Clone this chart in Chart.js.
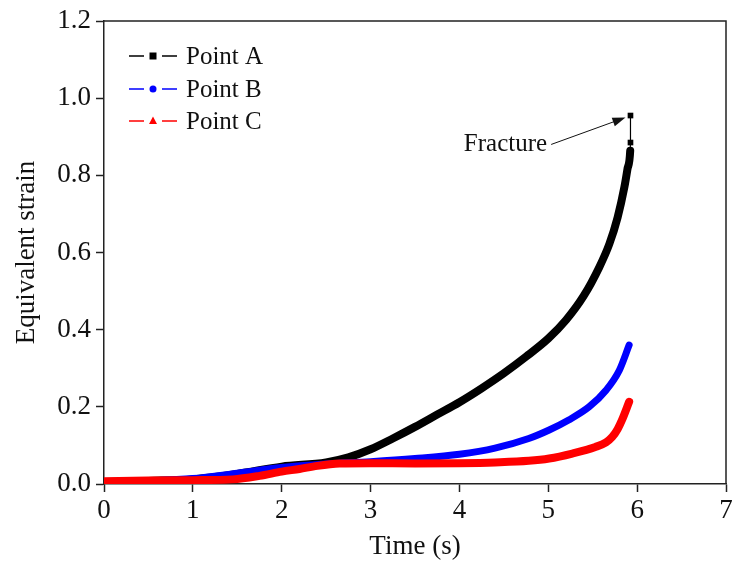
<!DOCTYPE html>
<html>
<head>
<meta charset="utf-8">
<script src="https://cdn.jsdelivr.net/npm/chart.js@4.4.1/dist/chart.umd.min.js"></script>
<style>
html,body{margin:0;padding:0;background:#fff;}
#wrap{width:733px;height:567px;position:relative;}
</style>
</head>
<body>
<div id="wrap"><canvas id="c"></canvas></div>
<script>
// ---- Data ----
const seriesNames = ["Point A", "Point B", "Point C"];

const timeA   = [0, 0.5, 1.0, 1.5, 2.0, 2.5, 2.75, 3.0, 3.25, 3.5, 3.75, 4.0, 4.25, 4.5, 4.75, 5.0, 5.2, 5.4, 5.574, 5.687, 5.78, 5.856, 5.89, 5.922, 5.925, 5.925];
const strainA = [0.005, 0.008, 0.012, 0.026, 0.045, 0.056, 0.069, 0.090, 0.118, 0.148, 0.180, 0.212, 0.248, 0.287, 0.330, 0.377, 0.425, 0.488, 0.562, 0.622, 0.691, 0.769, 0.815, 0.864, 0.885, 0.955];

const timeB   = [0, 0.5, 1.0, 1.5, 2.0, 2.5, 3.0, 3.5, 4.0, 4.4, 4.78, 5.01, 5.23, 5.46, 5.65, 5.80, 5.91];
const strainB = [0.005, 0.008, 0.014, 0.028, 0.043, 0.052, 0.058, 0.066, 0.077, 0.093, 0.118, 0.140, 0.166, 0.200, 0.243, 0.295, 0.360];

const timeC   = [0, 0.5, 1.0, 1.45, 1.75, 2.0, 2.2, 2.4, 2.65, 3.0, 3.5, 4.0, 4.4, 4.78, 5.01, 5.27, 5.53, 5.65, 5.72, 5.78, 5.83, 5.91];
const strainC = [0.007, 0.009, 0.010, 0.012, 0.021, 0.032, 0.039, 0.047, 0.053, 0.054, 0.053, 0.054, 0.056, 0.060, 0.066, 0.079, 0.096, 0.108, 0.122, 0.142, 0.166, 0.213];

const xTicks = [0, 1, 2, 3, 4, 5, 6, 7];
const yTicks = [0.0, 0.2, 0.4, 0.6, 0.8, 1.0, 1.2];

const fractureLabel = "Fracture";
const fracturePoint = {x: 5.925, y: 0.955};
const fractureTextAt = {x: 4.05, y: 0.88};

const xTitle = "Time (s)";
const yTitle = "Equivalent strain";

// ---- build datasets ----
function pts(xs, ys){ return xs.map((x,i)=>({x:x, y:ys[i]})); }

const nA = timeA.length;
const datasets = [
  {
    label: seriesNames[0], data: pts(timeA, strainA), order: 3,
    borderColor: '#000000', backgroundColor: '#000000', borderWidth: 8,
    pointStyle: 'rect',
    pointRadius: ctx => (ctx.dataIndex >= nA - 2 ? 4 : 0),
    pointBorderWidth: 0,
    segment: { borderWidth: ctx => (ctx.p0DataIndex >= nA - 3 ? 1.2 : 8) },
    cubicInterpolationMode: 'monotone', borderCapStyle: 'round'
  },
  {
    label: seriesNames[1], data: pts(timeB, strainB), order: 2,
    borderColor: '#0000ff', backgroundColor: '#0000ff', borderWidth: 7,
    pointStyle: 'circle', pointRadius: 0,
    cubicInterpolationMode: 'monotone', borderCapStyle: 'round'
  },
  {
    label: seriesNames[2], data: pts(timeC, strainC), order: 1,
    borderColor: '#ff0000', backgroundColor: '#ff0000', borderWidth: 8,
    pointStyle: 'triangle', pointRadius: 0,
    cubicInterpolationMode: 'monotone', borderCapStyle: 'round'
  }
];

const serif = "'Liberation Serif', 'Times New Roman', serif";
const axisColor = '#222222';

// frame, legend and annotation
const extras = {
  id: 'extras',
  afterDraw(chart) {
    const ctx = chart.ctx, a = chart.chartArea;
    const xs = chart.scales.x, ys = chart.scales.y;
    ctx.save();
    // top/right frame
    ctx.strokeStyle = axisColor; ctx.lineWidth = 1.5;
    ctx.beginPath();
    ctx.moveTo(a.left, a.top); ctx.lineTo(a.right, a.top); ctx.lineTo(a.right, a.bottom);
    ctx.stroke();

    // legend
    const rowY = [56, 89, 121];
    ctx.font = "25px " + serif;
    ctx.textBaseline = 'middle';
    chart.data.datasets.forEach((ds, i) => {
      const y = rowY[i];
      ctx.strokeStyle = ds.borderColor; ctx.fillStyle = ds.borderColor; ctx.lineWidth = 1.3;
      ctx.beginPath();
      ctx.moveTo(129, y); ctx.lineTo(144, y);
      ctx.moveTo(162, y); ctx.lineTo(177, y);
      ctx.stroke();
      const cx = 153;
      ctx.beginPath();
      if (ds.pointStyle === 'rect') { ctx.rect(cx - 3.5, y - 3.5, 7, 7); }
      else if (ds.pointStyle === 'circle') { ctx.arc(cx, y, 3.5, 0, Math.PI * 2); }
      else { ctx.moveTo(cx, y - 4.5); ctx.lineTo(cx + 4, y + 3); ctx.lineTo(cx - 4, y + 3); ctx.closePath(); }
      ctx.fill();
      ctx.fillStyle = '#111';
      ctx.textAlign = 'left';
      ctx.fillText(ds.label, 186, y + 1);
    });

    // fracture annotation
    const tx = xs.getPixelForValue(fractureTextAt.x), ty = ys.getPixelForValue(fractureTextAt.y);
    ctx.font = "25px " + serif;
    ctx.fillStyle = '#111';
    ctx.textAlign = 'left';
    ctx.textBaseline = 'middle';
    ctx.fillText(fractureLabel, tx, ty);
    const w = ctx.measureText(fractureLabel).width;
    const sx = tx + w + 4, sy = ty;
    const ex = xs.getPixelForValue(fracturePoint.x) - 5, ey = ys.getPixelForValue(fracturePoint.y) + 2;
    const ang = Math.atan2(ey - sy, ex - sx);
    ctx.strokeStyle = '#111'; ctx.lineWidth = 1;
    ctx.beginPath(); ctx.moveTo(sx, sy); ctx.lineTo(ex - 10 * Math.cos(ang), ey - 10 * Math.sin(ang)); ctx.stroke();
    ctx.beginPath();
    ctx.moveTo(ex, ey);
    ctx.lineTo(ex - 13 * Math.cos(ang) + 4.5 * Math.sin(ang), ey - 13 * Math.sin(ang) - 4.5 * Math.cos(ang));
    ctx.lineTo(ex - 13 * Math.cos(ang) - 4.5 * Math.sin(ang), ey - 13 * Math.sin(ang) + 4.5 * Math.cos(ang));
    ctx.closePath(); ctx.fill();
    ctx.restore();
  }
};

new Chart(document.getElementById('c'), {
  type: 'line',
  data: { datasets: datasets },
  options: {
    responsive: true, maintainAspectRatio: false, animation: false,
    layout: { padding: { top: 21, right: 7, left: 0, bottom: 0 } },
    plugins: { legend: { display: false }, tooltip: { enabled: false } },
    scales: {
      x: {
        type: 'linear', min: 0, max: 7,
        afterFit: s => { s.height = 83; s.paddingRight = 0; s.paddingLeft = 0; },
        afterBuildTicks: s => { s.ticks = xTicks.map(v => ({value: v})); },
        grid: { drawOnChartArea: false, drawTicks: true, tickLength: 8, tickColor: axisColor, tickWidth: 1.5 },
        border: { color: axisColor, width: 1.5 },
        ticks: { color: '#111', padding: 3, font: { family: serif, size: 27 }, maxRotation: 0,
                 callback: v => String(v) },
        title: { display: true, text: xTitle, color: '#111', font: { family: serif, size: 27, lineHeight: 1.2 }, padding: { top: 0, bottom: 4 } }
      },
      y: {
        type: 'linear', min: 0, max: 1.2,
        afterFit: s => { s.width = 104; s.paddingTop = 0; s.paddingBottom = 0; },
        afterBuildTicks: s => { s.ticks = yTicks.map(v => ({value: v})); },
        grid: { drawOnChartArea: false, drawTicks: true, tickLength: 8, tickColor: axisColor, tickWidth: 1.5 },
        border: { color: axisColor, width: 1.5 },
        ticks: { color: '#111', padding: 5, font: { family: serif, size: 27 },
                 callback: v => Number(v).toFixed(1) },
        title: { display: true, text: yTitle, color: '#111', font: { family: serif, size: 27, lineHeight: 1.2 }, padding: { top: 11, bottom: 0 } }
      }
    }
  },
  plugins: [extras]
});
</script>
</body>
</html>
